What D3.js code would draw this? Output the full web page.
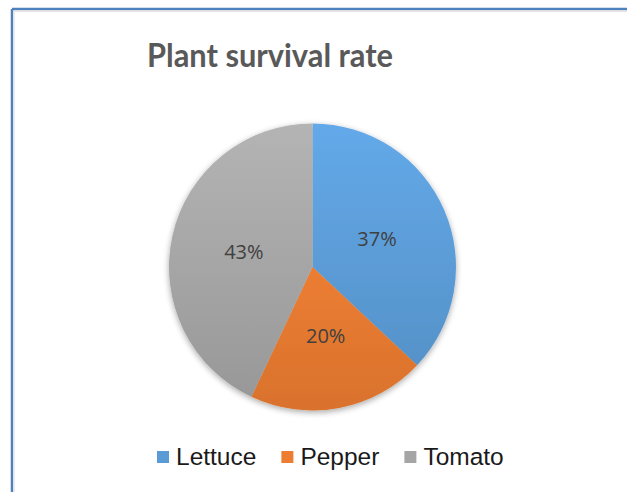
<!DOCTYPE html>
<html>
<head>
<meta charset="utf-8">
<script src="https://cdn.jsdelivr.net/npm/d3@7"></script>
<style>
  html, body { margin: 0; padding: 0; background: #fff; }
  svg { display: block; }
</style>
</head>
<body>
<div id="chart"></div>
<script>
// data
var categories = ["Lettuce", "Pepper", "Tomato"];
var values = [37, 20, 43];
var colors = ["#5b9bd5", "#ed7d31", "#a5a5a5"];
var titleText = "Plant survival rate";

var width = 627, height = 492;
var cx = 312.5, cy = 267, radius = 143.5;

var svg = d3.select("#chart")
	.append("svg")
	.attr("width", width)
	.attr("height", height);

var defs = svg.append("defs");

// soft shadow under the pie
var shadow = defs.append("filter")
	.attr("id", "shadow")
	.attr("x", "-20%").attr("y", "-20%")
	.attr("width", "140%").attr("height", "140%");
shadow.append("feGaussianBlur").attr("in", "SourceAlpha").attr("stdDeviation", 3);
shadow.append("feOffset").attr("dx", 0).attr("dy", 2).attr("result", "blur");
shadow.append("feComponentTransfer").append("feFuncA").attr("type", "linear").attr("slope", 0.35);
var merge = shadow.append("feMerge");
merge.append("feMergeNode");
merge.append("feMergeNode").attr("in", "SourceGraphic");

// top-to-bottom gradient for each slice, across the whole pie
colors.forEach(function (c, i) {
	var g = defs.append("linearGradient")
		.attr("id", "grad" + i)
		.attr("gradientUnits", "userSpaceOnUse")
		.attr("x1", 0).attr("y1", -radius)
		.attr("x2", 0).attr("y2", radius);
	g.append("stop").attr("offset", "0%").attr("stop-color", d3.color(c).brighter(0.25));
	g.append("stop").attr("offset", "100%").attr("stop-color", d3.color(c).darker(0.25));
});

// frame (blue line on top and left, like a clipped chart border)
svg.append("line")
	.attr("x1", 12).attr("y1", 9).attr("x2", width).attr("y2", 9)
	.style("stroke", "#4f81bd").style("stroke-width", 2.5);
svg.append("line")
	.attr("x1", 12).attr("y1", 9).attr("x2", 12).attr("y2", height)
	.style("stroke", "#4f81bd").style("stroke-width", 2.5);
svg.append("line")
	.attr("x1", 14).attr("y1", 11).attr("x2", width).attr("y2", 11)
	.style("stroke", "#dcdcdc").style("stroke-width", 1.5);
svg.append("line")
	.attr("x1", 14).attr("y1", 11).attr("x2", 14).attr("y2", height)
	.style("stroke", "#e4e4e4").style("stroke-width", 1.5);

// title
svg.append("text")
	.attr("x", 270)
	.attr("y", 67)
	.attr("text-anchor", "middle")
	.attr("textLength", 246)
	.attr("lengthAdjust", "spacingAndGlyphs")
	.style("font-family", "Lato, 'Open Sans', sans-serif")
	.style("font-weight", "bold")
	.style("font-size", "33px")
	.style("fill", "#595959")
	.text(titleText);

// pie
var data = categories.map(function (c, i) {
	return { name: c, value: values[i], idx: i };
});
var pie = d3.pie().sort(null).value(function (d) { return d.value; });
var arc = d3.arc().innerRadius(0).outerRadius(radius);
var labelArc = d3.arc().innerRadius(radius * 0.49).outerRadius(radius * 0.49);
var total = d3.sum(values);

var g = svg.append("g")
	.attr("transform", "translate(" + cx + "," + cy + ")");

g.append("g")
	.attr("filter", "url(#shadow)")
	.selectAll("path")
	.data(pie(data))
	.enter()
	.append("path")
	.attr("d", arc)
	.style("fill", function (d) { return "url(#grad" + d.data.idx + ")"; });

g.selectAll(".label")
	.data(pie(data))
	.enter()
	.append("text")
	.attr("class", "label")
	.attr("transform", function (d) { return "translate(" + labelArc.centroid(d) + ")"; })
	.attr("dy", "0.35em")
	.attr("text-anchor", "middle")
	.style("font-family", "'Open Sans', sans-serif")
	.style("font-size", "20px")
	.style("fill", "#404040")
	.text(function (d) { return Math.round(d.data.value / total * 100) + "%"; });

// legend
var legend = svg.append("g").attr("transform", "translate(157,457)");
var lx = 0;
data.forEach(function (d) {
	var item = legend.append("g").attr("transform", "translate(" + lx + ",0)");
	item.append("rect")
		.attr("x", 0).attr("y", -6)
		.attr("width", 12).attr("height", 12)
		.style("fill", colors[d.idx]);
	var t = item.append("text")
		.attr("x", 19)
		.attr("y", 8)
		.style("font-family", "'Liberation Sans', Arial, sans-serif")
		.style("font-size", "24.5px")
		.style("fill", "#1a1a1a")
		.text(d.name);
	lx += 19 + t.node().getComputedTextLength() + 25;
});
</script>
</body>
</html>
